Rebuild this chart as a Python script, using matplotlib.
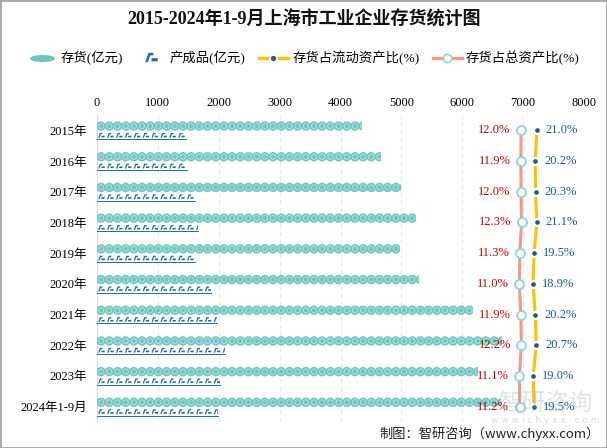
import numpy as np
import matplotlib
matplotlib.use("Agg")
import matplotlib.pyplot as plt
from matplotlib.path import Path
from matplotlib.patches import Rectangle
from matplotlib.lines import Line2D

plt.rcParams['font.family'] = ['Liberation Serif', 'Noto Sans CJK SC', 'DejaVu Sans']

categories = ['2015年', '2016年', '2017年', '2018年', '2019年', '2020年',
              '2021年', '2022年', '2023年', '2024年1-9月']
stock = [4357, 4660, 4987, 5238, 4975, 5287, 6169, 6645, 6256, 6640]
finished = [1459, 1475, 1607, 1656, 1607, 1880, 1967, 2098, 2016, 1984]
ratio_current = [21.0, 20.2, 20.3, 21.1, 19.5, 18.9, 20.2, 20.7, 19.0, 19.5]
ratio_total = [12.0, 11.9, 12.0, 12.3, 11.3, 11.0, 11.9, 12.2, 11.1, 11.2]
xticks = [0, 1000, 2000, 3000, 4000, 5000, 6000, 7000, 8000]

TEAL = '#6cc6bf'
TEAL_IN = '#a6ddd8'
DBLUE = '#1b6f9e'
PINK = '#f19a85'
YEL = '#ffc000'
RED = '#c00000'
LBL_BLUE = '#17607d'

fig = plt.figure(figsize=(6.07, 4.48), dpi=100)
ax = fig.add_axes([97/607, 1-422/448, 487/607, 307/448])

# ratio lines on hidden twin axis
ax2 = ax.twiny()
ax2.set_xlim(-231.1, 48.1)
ax2.set_xticks([])
for s in ax2.spines.values():
    s.set_visible(False)

ax.set_xlim(0, 8000)
ax.set_ylim(9.5, -0.5)
ax.xaxis.tick_top()
ax.xaxis.set_label_position('top')
ax.set_xticks(xticks)
ax.set_xticklabels([str(t) for t in xticks], fontsize=9)
ax.set_yticks(range(len(categories)))
ax.set_yticklabels(categories, fontsize=9)
ax.tick_params(length=0, pad=7)
ax.tick_params(axis='x', pad=4, top=False, bottom=False, labeltop=True, labelbottom=False)
for s in ax.spines.values():
    s.set_visible(False)
ax.axvline(0, color='#dddddd', lw=1, zorder=0)
for t in xticks[1:]:
    ax.axvline(t, color='#e8e8e8', lw=0.8, ls=(0, (4, 3)), zorder=0)

# custom finished-goods icon
icon_verts = [(-1.0, -0.6), (-0.6, -0.6), (-0.2, 0.5), (0.3, 0.5), (0.3, 0.9),
              (-0.5, 0.9), (-1.0, -0.6),
              (0.0, -0.45), (1.0, -0.45), (1.0, 0.05), (0.0, 0.05), (0.0, -0.45)]
icon_codes = [Path.MOVETO] + [Path.LINETO] * 5 + [Path.CLOSEPOLY] + \
             [Path.MOVETO] + [Path.LINETO] * 3 + [Path.CLOSEPOLY]
icon_path = Path(icon_verts, icon_codes)

unit_s = 134.5
unit_f = 146.0
for i in range(len(categories)):
    xs = np.arange(unit_s / 2, stock[i] + unit_s / 2, unit_s)
    clip = Rectangle((0, i - 0.5), stock[i], 1.0, transform=ax.transData)
    sc1 = ax.scatter(xs, np.full(len(xs), i - 0.14), s=46, c=TEAL, edgecolors='none', zorder=3)
    sc2 = ax.scatter(xs, np.full(len(xs), i - 0.14), s=14, facecolors='none', edgecolors=TEAL_IN,
                     linewidths=0.9, zorder=4)
    sc1.set_clip_path(clip)
    sc2.set_clip_path(clip)
    xf = np.arange(unit_f / 2, finished[i] + unit_f / 2, unit_f)
    clipf = Rectangle((0, i - 0.5), finished[i], 1.0, transform=ax.transData)
    sc3 = ax.scatter(xf, np.full(len(xf), i + 0.18), s=22, c=DBLUE, marker=icon_path,
                     edgecolors='none', zorder=3)
    sc3.set_clip_path(clipf)
    ax.plot([0, finished[i]], [i + 0.29, i + 0.29], color=DBLUE, lw=0.7, zorder=3)

ypos = list(range(len(categories)))
ax2.plot(ratio_total, ypos, color=PINK, lw=2.2, marker='o', ms=6.5, mfc='#fdfbea',
         mec='#8fd4ea', mew=1.3, zorder=5)
ax2.plot(ratio_current, ypos, color=YEL, lw=2.2, marker='o', ms=5, mfc='#1b5e80',
         mec='white', mew=1.6, zorder=5)
for i in range(len(categories)):
    ax2.annotate(f'{ratio_total[i]:.1f}%', (ratio_total[i], i), xytext=(-7.5, 0),
                 textcoords='offset points', ha='right', va='center', fontsize=9,
                 color=RED, zorder=6)
    ax2.annotate(f'{ratio_current[i]:.1f}%', (ratio_current[i], i), xytext=(6.5, 0),
                 textcoords='offset points', ha='left', va='center', fontsize=9,
                 color=LBL_BLUE, zorder=6)

# title
fig.text(0.5, 1 - 19/448, '2015-2024年1-9月上海市工业企业存货统计图', ha='center', va='center',
         fontsize=13, fontweight='bold', color='#111111')

# legend
ell = Path.unit_circle().transformed(matplotlib.transforms.Affine2D().scale(3.5, 1))
h1 = Line2D([], [], ls='none', marker=ell, ms=18, mfc=TEAL, mec='none')
h2 = Line2D([], [], ls='none', marker=icon_path, ms=9, mfc=DBLUE, mec='none')
h3 = Line2D([], [], color=YEL, lw=2.4, marker='o', ms=5, mfc='#1b5e80', mec='white', mew=1.2)
h4 = Line2D([], [], color=PINK, lw=2.4, marker='o', ms=6, mfc='#fdfbea', mec='#8fd4ea', mew=1.2)
fig.legend([h1, h2, h3, h4], ['存货(亿元)', '产成品(亿元)', '存货占流动资产比(%)', '存货占总资产比(%)'],
           loc='center', bbox_to_anchor=(0.5, 1 - 58/448), ncol=4, frameon=False,
           fontsize=9.6, handlelength=2.2, handletextpad=0.3, columnspacing=1.0)

# watermark
fig.text(545/607, 1 - 404/448, '智研咨询', ha='center', va='center', fontsize=17,
         color='#9aa0b0', alpha=0.3, family=['Noto Sans CJK SC'])
fig.text(545/607, 1 - 420/448, 'w w w . c h y x x . c o m', ha='center', va='center', fontsize=6.5,
         color='#9aa0b0', alpha=0.4, family=['DejaVu Sans'])

# footer
fig.text(600/607, 1 - 434/448, '制图：智研咨询（www.chyxx.com）', ha='right', va='center',
         fontsize=9.5, color='#222222', family=['Noto Sans CJK SC', 'DejaVu Sans'])

fig.patches.append(Rectangle((0, 0), 1, 1, transform=fig.transFigure, fill=False,
                             edgecolor='#a6a6a6', lw=2))
fig.savefig('out.png', dpi=100)
